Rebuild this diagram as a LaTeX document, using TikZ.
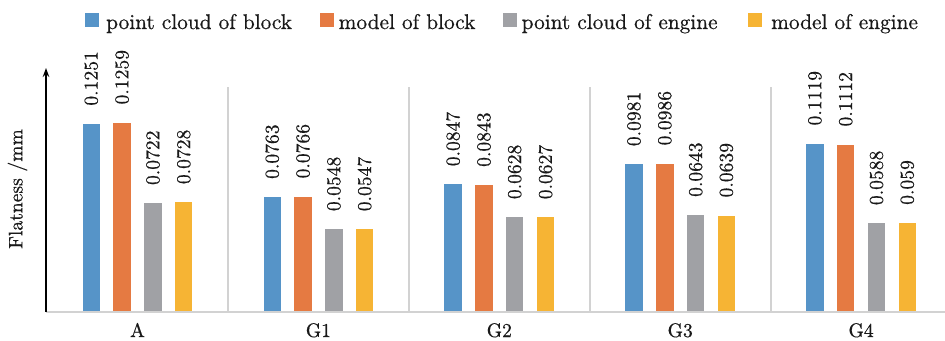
\documentclass[tikz,border=0pt]{standalone}
\usepackage{fontspec}
\usetikzlibrary{arrows.meta}
\newfontfamily\chartfont{lmroman10-regular.otf}[FakeBold=0.6]
\definecolor{bar0}{RGB}{86,148,200}
\definecolor{bar1}{RGB}{229,122,66}
\definecolor{bar2}{RGB}{160,161,165}
\definecolor{bar3}{RGB}{246,180,52}
\definecolor{gridgray}{RGB}{210,210,210}
\definecolor{inkgray}{RGB}{25,25,25}
\begin{document}
\begin{tikzpicture}[x=1pt,y=-1pt,
  txt/.style={inner sep=0pt,text=inkgray,font=\chartfont\fontsize{19.6}{24}\selectfont},
  vallabel/.style={txt,rotate=90,anchor=west},
  catlabel/.style={txt,anchor=base},
  legtext/.style={inner sep=0pt,text=inkgray,anchor=base west,font=\chartfont\fontsize{21.3}{26}\selectfont},
  legsq/.style={inner sep=0pt,minimum size=14pt,draw=none},
  sepline/.style={draw=gridgray,line width=2pt},
  axisline/.style={draw=gridgray,line width=2pt},
  yaxis/.style={draw=black,line width=1.3pt,-{Stealth[length=9pt,width=6.5pt]}}]
\useasboundingbox (0,0) rectangle (945,340);

% legend
\node[legsq,fill=bar0] (lk0) at (92,20) {};
\node[legtext] (lt0) at (106,29) {point cloud of block};
\node[legsq,fill=bar1] (lk1) at (326.8,20) {};
\node[legtext] (lt1) at (338.5,29) {model of block};
\node[legsq,fill=bar2] (lk2) at (509.5,20) {};
\node[legtext] (lt2) at (521.5,29) {point cloud of engine};
\node[legsq,fill=bar3] (lk3) at (755.3,20) {};
\node[legtext] (lt3) at (771,29) {model of engine};

% group separators
\foreach \k in {0,...,3}{
  \pgfmathsetmacro\sx{137.5+180.9*(\k+0.5)}
  \coordinate (st\k) at (\sx,87);
  \coordinate (sb\k) at (\sx,311.5);
  \draw[sepline] (st\k) -- (sb\k);
}

% bars, value labels and category names
\foreach \cat/\vals [count=\i from 0] in {
    A/{0.1251,0.1259,0.0722,0.0728},
    G1/{0.0763,0.0766,0.0548,0.0547},
    G2/{0.0847,0.0843,0.0628,0.0627},
    G3/{0.0981,0.0986,0.0643,0.0639},
    G4/{0.1119,0.1112,0.0588,0.059}}{
  \pgfmathsetmacro\cx{137.5+180.9*\i}
  \node[catlabel] (cat\i) at (\cx,337) {\cat};
  \foreach \v [count=\j from 0] in \vals {
    \pgfmathsetmacro\bx{\cx+(\j-1.5)*30.8}
    \pgfmathsetmacro\ty{311.5-\v*1500}
    \fill[bar\j] (\bx-8.7,311) rectangle (\bx+8.7,\ty);
    \node[vallabel] (val\i-\j) at (\bx,\ty-18) {\v};
  }
}

% axes
\coordinate (origin) at (46,311.5);
\coordinate (xend) at (945,311.5);
\coordinate (ytop) at (46,68);
\draw[axisline] (origin) -- (xend);
\draw[yaxis] (origin) -- (ytop);
\node[txt,rotate=90] (ylab) at (17.5,189) {Flatness /mm};
\end{tikzpicture}
\end{document}
